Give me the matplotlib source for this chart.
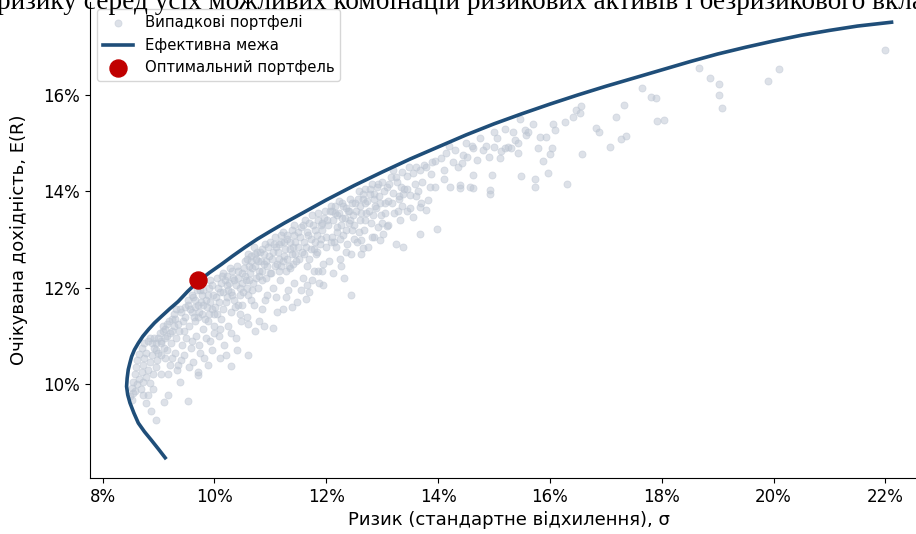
import matplotlib
matplotlib.use("Agg")
import matplotlib.pyplot as plt
from matplotlib.ticker import PercentFormatter, MultipleLocator

# ---------------- data (values in %) ----------------
title_text = "ризику серед усіх можливих комбінацій ризикових активів і безризикового вкладення"
x_label = "Ризик (стандартне відхилення), σ"
y_label = "Очікувана дохідність, E(R)"
legend_labels = ["Випадкові портфелі", "Ефективна межа", "Оптимальний портфель"]

frontier_risk = [9.12, 9.00, 8.87, 8.75, 8.64, 8.56, 8.49, 8.45, 8.43, 8.44, 8.46, 8.49, 8.52,
                 8.57, 8.64, 8.72, 8.82, 8.93, 9.05, 9.20, 9.35, 9.52, 9.71, 9.91,
                 10.12, 10.33, 10.55, 10.77, 11.0, 11.25, 11.5, 11.75, 12.0, 12.5, 13.0, 13.5,
                 14.0, 14.5, 15.0, 15.5, 16.0, 16.5, 17.0, 17.5, 18.0, 18.5, 19.0, 19.5, 20.0,
                 20.5, 21.0, 21.5, 22.11]
frontier_ret = [8.47, 8.65, 8.84, 9.01, 9.19, 9.40, 9.61, 9.78, 9.95, 10.12, 10.30, 10.44, 10.57,
                10.71, 10.85, 10.99, 11.13, 11.27, 11.40, 11.56, 11.71, 11.92, 12.13, 12.31,
                12.48, 12.66, 12.84, 13.01, 13.17, 13.34, 13.50, 13.66, 13.82, 14.12, 14.40, 14.67,
                14.92, 15.17, 15.40, 15.61, 15.81, 16.00, 16.18, 16.35, 16.52, 16.69, 16.85, 16.99, 17.12,
                17.24, 17.34, 17.43, 17.51]

opt_risk = 9.71
opt_ret = 12.15

rand_risk = [
    8.50, 8.52, 8.55, 8.58, 8.60, 8.62, 8.65, 8.70, 8.75, 8.58, 8.62, 8.66, 8.70, 8.72, 8.75, 8.78,
    8.82, 8.85, 8.68, 8.72, 8.78, 8.82, 8.85, 8.88, 8.92, 8.95, 8.85, 8.90, 8.95, 8.98, 9.00, 8.90,
    8.95, 8.87, 8.52, 8.55, 8.73, 8.81, 8.78, 9.10, 9.17, 9.52, 9.38, 9.17, 9.04, 9.34, 9.71, 10.30,
    10.10, 10.60, 11.05,
    9.02, 9.05, 9.08, 9.10, 9.12, 9.15, 9.18, 9.20, 9.22, 9.25, 9.28, 9.30, 9.32, 9.35, 9.38, 9.40,
    9.42, 9.45, 9.48, 9.50, 9.52, 9.55, 9.58, 9.60, 9.62, 9.25, 9.15, 9.35, 9.45, 9.05, 9.12, 9.30,
    9.65, 9.68, 9.70, 9.72, 9.75, 9.78, 9.80, 9.82, 9.85, 9.88, 9.90, 9.92, 9.95, 9.98, 10.00, 9.60,
    9.70, 9.80, 9.90, 9.95, 9.75, 9.85, 9.65, 9.78, 9.92, 9.62, 9.88, 9.70, 9.55,
    10.02, 10.05, 10.08, 10.10, 10.12, 10.15, 10.18, 10.20, 10.22, 10.25, 10.28, 10.30, 10.32, 10.35,
    10.38, 10.40, 10.42, 10.45, 10.48, 10.50, 10.05, 10.15, 10.25, 10.35, 10.45, 10.12, 10.22, 10.32,
    10.42, 10.20, 10.10, 10.30, 10.00, 10.40,
    10.52, 10.55, 10.58, 10.60, 10.62, 10.65, 10.68, 10.70, 10.72, 10.75, 10.78, 10.80, 10.82, 10.85,
    10.88, 10.90, 10.92, 10.95, 10.98, 11.00, 10.55, 10.65, 10.75, 10.85, 10.95, 10.60, 10.70, 10.80,
    10.90, 10.62, 10.72, 10.85, 10.58, 10.78, 10.68, 10.88, 10.50, 10.60,
    11.02, 11.05, 11.08, 11.10, 11.12, 11.15, 11.18, 11.20, 11.22, 11.25, 11.28, 11.30, 11.32, 11.35,
    11.38, 11.40, 11.42, 11.45, 11.48, 11.50, 11.05, 11.15, 11.25, 11.35, 11.45, 11.10, 11.20, 11.30,
    11.40, 11.12, 11.28, 11.38, 11.22, 11.42,
    11.52, 11.55, 11.58, 11.60, 11.62, 11.65, 11.68, 11.70, 11.72, 11.75, 11.78, 11.80, 11.82, 11.85,
    11.88, 11.90, 11.92, 11.95, 11.98, 12.00, 11.60, 11.70, 11.80, 11.90, 11.65, 11.85, 11.95, 11.55,
    11.75, 11.64, 11.92, 11.83,
    12.02, 12.05, 12.08, 12.10, 12.12, 12.15, 12.18, 12.20, 12.22, 12.25, 12.28, 12.30, 12.32, 12.35,
    12.38, 12.40, 12.42, 12.45, 12.48, 12.50, 12.44, 12.10, 12.20, 12.30, 12.40, 12.26, 12.36, 12.14,
    12.46, 12.24,
    12.52, 12.55, 12.58, 12.60, 12.62, 12.65, 12.68, 12.70, 12.72, 12.75, 12.78, 12.80, 12.82, 12.85,
    12.88, 12.90, 12.92, 12.95, 12.98, 13.00, 12.60, 12.70, 12.85, 12.96, 13.02, 12.66, 12.63, 12.81,
    13.05, 13.08, 13.10, 13.15, 13.20, 13.22, 13.26, 13.30, 13.32, 13.35, 13.37, 13.40, 13.44, 13.45,
    13.48, 13.50, 13.11, 13.08, 13.20, 13.30, 13.45, 13.25, 13.35,
    13.55, 13.55, 13.60, 13.64, 13.67, 13.67, 13.70, 13.75, 13.79, 13.79, 13.82, 13.85, 13.90, 13.95,
    13.98, 13.50, 13.67, 13.60, 13.72, 13.88, 13.95, 13.58,
    14.05, 14.10, 14.15, 14.21, 14.27, 14.30, 14.36, 14.39, 14.39, 14.42, 14.45, 14.51, 14.57, 14.62,
    14.63, 14.63, 14.70, 14.81, 14.91, 14.93, 14.93, 14.96, 14.20, 14.50, 14.75, 14.85, 14.10, 14.60,
    15.00, 15.00, 15.10, 15.13, 15.19, 15.25, 15.31, 15.34, 15.37, 15.43, 15.43, 15.46, 15.48, 15.55,
    15.57, 15.61, 15.69, 15.73, 15.73, 15.79, 15.83, 15.88, 15.93, 15.97, 15.20, 15.05,
    16.00, 16.03, 16.06, 16.09, 16.27, 16.31, 16.41, 16.47, 16.53, 16.56, 16.58, 16.83, 16.87, 17.07,
    17.19, 17.28, 17.32, 17.36, 17.64, 17.81, 17.90, 17.91, 18.04,
    18.66, 18.87, 19.02, 19.03, 19.08, 19.90, 20.09, 21.99,
]
rand_ret = [
    9.75, 9.92, 10.05, 10.20, 10.35, 10.50, 10.62, 10.75, 10.85, 9.85, 10.00, 10.10, 10.25, 10.40, 10.55, 10.65,
    10.90, 10.95, 9.90, 10.05, 10.15, 10.30, 10.45, 10.60, 10.75, 10.85, 10.02, 10.20, 10.35, 10.50, 10.65, 9.90,
    9.26, 9.45, 9.67, 9.81, 9.78, 9.78, 9.61, 9.62, 9.78, 9.65, 10.05, 10.21, 10.21, 10.30, 10.19, 10.38,
    10.53, 10.61, 11.16,
    11.05, 10.90, 11.20, 10.75, 10.55, 11.00, 11.30, 10.40, 10.85, 11.10, 11.45, 10.65, 10.95, 11.25, 11.55, 10.50,
    10.80, 11.10, 11.40, 10.95, 11.65, 11.20, 10.75, 11.50, 11.80, 10.55, 10.70, 10.40, 10.60, 10.60, 11.15, 11.35,
    11.30, 11.00, 11.65, 10.80, 11.95, 11.45, 11.15, 10.55, 11.75, 11.30, 12.00, 10.90, 11.55, 11.85, 11.20, 10.90,
    11.40, 11.65, 11.45, 10.70, 10.65, 10.95, 11.60, 11.85, 12.15, 10.45, 10.40, 10.25, 10.35,
    11.60, 12.20, 11.00, 11.90, 11.35, 12.30, 10.80, 11.70, 12.05, 11.20, 12.40, 11.50, 11.85, 12.15,
    10.95, 12.45, 11.65, 12.00, 11.30, 12.30, 11.45, 11.55, 11.95, 11.75, 11.45, 12.10, 12.25, 12.35,
    12.20, 10.60, 11.15, 11.05, 11.05, 10.70,
    11.90, 12.55, 11.40, 12.70, 12.15, 11.75, 12.40, 12.85, 11.10, 12.60, 12.00, 12.35, 12.75, 11.55,
    12.50, 12.90, 12.20, 11.85, 12.65, 12.95, 12.25, 12.55, 12.20, 12.15, 12.45, 11.85, 11.65, 11.30,
    11.75, 12.45, 12.70, 12.80, 12.00, 12.55, 11.95, 11.20, 11.65, 11.25,
    12.30, 12.75, 13.05, 11.80, 12.50, 12.90, 12.15, 13.10, 11.55, 12.65, 12.35, 13.00, 11.95, 12.80,
    13.20, 12.50, 12.10, 12.95, 11.70, 13.15, 12.00, 12.60, 12.95, 12.40, 12.70, 12.85, 12.45, 12.60,
    12.85, 11.50, 11.80, 11.60, 13.15, 13.30,
    12.60, 13.25, 12.20, 12.95, 13.40, 12.45, 13.10, 11.90, 12.80, 13.50, 12.35, 13.20, 12.70, 13.55,
    12.10, 13.00, 13.35, 12.50, 13.60, 12.85, 12.70, 13.35, 12.95, 13.30, 12.05, 12.35, 12.05, 11.95,
    12.15, 11.77, 12.34, 12.75,
    13.40, 12.55, 13.70, 13.05, 12.30, 13.55, 12.85, 13.25, 13.80, 12.60, 13.45, 13.10, 12.20, 13.65,
    12.90, 13.35, 13.85, 12.70, 13.50, 13.00, 11.85, 13.60, 13.50, 13.70, 13.60, 12.45, 12.75, 12.95,
    13.20, 13.00,
    13.75, 12.95, 14.00, 13.40, 12.70, 13.85, 13.20, 14.05, 13.55, 12.85, 13.95, 13.35, 14.15, 13.05,
    13.70, 14.10, 13.25, 13.90, 13.50, 14.20, 13.70, 13.75, 13.85, 12.99, 13.12, 12.82, 12.99, 13.05,
    13.75, 14.10, 13.30, 14.30, 13.96, 13.55, 14.20, 13.85, 13.41, 14.40, 12.84, 14.05, 14.31, 13.60,
    14.50, 13.93, 13.79, 13.27, 14.45, 13.90, 14.05, 12.90, 13.70,
    14.38, 13.46, 13.90, 14.00, 13.11, 14.45, 13.75, 14.55, 13.62, 14.51, 13.82, 14.10, 14.60, 14.10,
    13.22, 13.65, 13.68, 14.50, 14.20, 14.35, 14.62, 14.15,
    14.70, 14.45, 14.80, 14.09, 14.60, 14.85, 14.51, 14.13, 14.07, 14.59, 14.76, 14.72, 14.10, 14.33,
    14.07, 14.90, 14.65, 14.86, 14.72, 14.02, 13.94, 14.33, 14.95, 15.00, 15.10, 14.95, 14.25, 14.95,
    14.92, 15.24, 14.69, 14.83, 14.90, 14.92, 14.90, 15.24, 15.07, 15.00, 14.79, 15.50, 14.32, 15.28,
    15.17, 15.24, 15.39, 14.25, 14.09, 14.90, 15.12, 14.62, 15.12, 14.38, 15.30, 15.10,
    14.78, 14.90, 15.39, 15.28, 15.43, 14.16, 15.54, 15.69, 15.62, 15.77, 14.78, 15.31, 15.23, 14.93,
    15.55, 15.08, 15.79, 15.15, 16.14, 15.95, 15.93, 15.46, 15.48,
    16.55, 16.36, 16.23, 16.00, 15.73, 16.30, 16.54, 16.94,
]

# more random portfolios from the dense band just under the frontier, as (risk, return)
rand_extra = [
    (9.52, 11.75), (9.56, 11.55), (9.60, 11.85), (9.63, 11.40), (9.66, 11.75), (9.69, 11.95),
    (9.72, 11.50), (9.76, 11.70), (9.80, 11.95), (9.83, 11.35), (9.86, 11.60), (9.89, 11.85),
    (9.93, 11.70), (9.96, 12.05), (9.99, 11.45), (10.03, 11.80), (10.06, 12.00), (10.09, 11.70),
    (10.13, 12.25), (10.16, 11.90), (10.19, 12.15), (10.23, 11.80), (10.26, 12.10), (10.29, 11.90),
    (10.33, 12.20), (10.36, 11.60), (10.39, 12.05), (10.43, 12.35), (10.46, 11.85), (10.49, 12.10),
    (10.53, 12.40), (10.56, 12.15), (10.59, 12.60), (10.63, 12.30), (10.66, 12.65), (10.69, 12.10),
    (10.73, 12.45), (10.76, 12.75), (10.79, 12.25), (10.83, 12.55), (10.86, 12.35), (10.89, 12.70),
    (10.93, 12.55), (10.96, 12.85), (10.99, 12.30), (11.03, 12.60), (11.06, 12.90), (11.09, 12.45),
    (11.13, 12.75), (11.16, 12.35), (11.19, 12.95), (11.23, 12.55), (11.26, 12.80), (11.29, 13.10),
    (11.33, 12.45), (11.36, 12.95), (11.39, 12.70), (11.43, 13.10), (11.46, 12.55), (11.49, 12.85),
    (11.53, 13.05), (11.56, 12.75), (11.59, 13.30), (11.63, 12.85), (11.66, 13.15), (11.69, 12.60),
    (11.73, 13.00), (11.76, 13.30), (11.79, 12.80), (11.83, 13.10), (11.86, 13.40), (11.89, 12.90),
    (11.93, 13.20), (11.96, 13.45), (11.99, 13.05), (12.03, 13.30), (12.06, 13.60), (12.09, 12.95),
    (12.13, 13.40), (12.16, 13.70), (12.19, 13.15), (12.23, 13.55), (12.26, 13.30), (12.29, 13.75),
    (12.33, 13.45), (12.36, 13.20), (12.39, 13.60), (12.43, 13.40), (12.46, 13.75), (12.49, 13.30),
    (12.53, 13.60), (12.56, 13.85), (12.59, 13.15), (12.63, 13.55), (12.66, 13.95), (12.69, 13.40),
    (12.73, 13.80), (12.76, 13.60), (12.79, 14.05), (12.83, 13.50), (12.86, 13.95), (12.89, 13.65),
    (12.93, 14.15), (12.96, 13.75), (12.99, 13.35), (13.03, 14.00), (13.06, 13.55), (13.13, 14.15),
    (13.17, 13.75), (13.24, 14.30), (13.28, 13.60), (13.33, 14.10), (13.38, 13.95), (9.48, 11.60),
    (9.44, 11.30), (9.40, 11.50), (9.36, 11.10), (9.32, 11.55), (9.28, 11.20), (9.24, 11.35),
    (9.20, 11.05), (9.16, 11.25), (9.12, 10.95), (9.08, 11.10), (9.04, 10.85), (9.00, 10.95),
    (8.96, 10.70), (8.92, 10.95), (8.88, 10.85),
]

# ---------------- figure ----------------
plt.rcParams['font.family'] = ['DejaVu Sans']
fig = plt.figure(figsize=(9.16, 5.34), dpi=100)
ax = fig.add_axes([0.0979, 0.1049, 0.9163, 0.8914])

all_risk = rand_risk + [p[0] for p in rand_extra]
all_ret = rand_ret + [p[1] for p in rand_extra]

ax.scatter(all_risk, all_ret, s=26, color='#bcc5d2', alpha=0.5, linewidths=0.6,
           label=legend_labels[0], zorder=1)
ax.plot(frontier_risk, frontier_ret, color='#1f4e79', lw=2.6, label=legend_labels[1], zorder=2)
ax.scatter([opt_risk], [opt_ret], s=150, color='#c00000', label=legend_labels[2], zorder=3)

ax.set_xlim(7.77, 22.78)
ax.set_ylim(8.05, 17.93)
ax.xaxis.set_major_locator(MultipleLocator(2))
ax.yaxis.set_major_locator(MultipleLocator(2))
ax.xaxis.set_major_formatter(PercentFormatter(xmax=100, decimals=0))
ax.yaxis.set_major_formatter(PercentFormatter(xmax=100, decimals=0))
ax.tick_params(labelsize=12)
ax.spines['top'].set_visible(False)
ax.spines['right'].set_visible(False)

ax.set_xlabel(x_label, fontsize=13)
ax.set_ylabel(y_label, fontsize=13)
ax.yaxis.set_label_coords(-0.0735, 0.5)

ax.legend(loc='upper left', fontsize=10.7, borderaxespad=0.5)

fig.text(-0.003, 1 - 9 / 534, title_text, ha='left', va='baseline',
         fontfamily='Liberation Serif', fontsize=19.6)

fig.savefig('out.png', dpi=100)
